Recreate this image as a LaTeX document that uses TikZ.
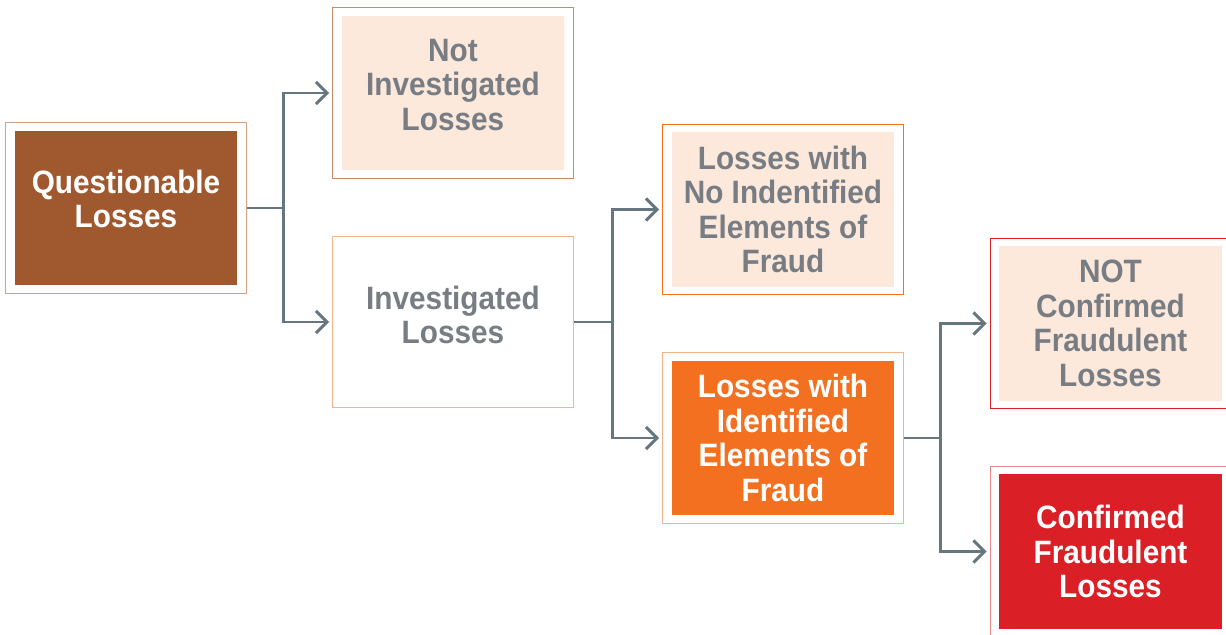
\documentclass[tikz,border=0pt]{standalone}
\usepackage{fontspec}
\setmainfont{Liberation Sans}[FakeStretch=0.92]
\usepackage{xcolor}
\usetikzlibrary{arrows.meta,positioning,fit}

\definecolor{qbrown}{HTML}{A0592F}
\definecolor{qtan}{HTML}{D4A088}
\definecolor{peach}{HTML}{FDE9DC}
\definecolor{nirim}{HTML}{C98A6B}
\definecolor{invrim}{HTML}{F7B38C}
\definecolor{forange}{HTML}{F37021}
\definecolor{orim}{HTML}{F8B18D}
\definecolor{fred}{HTML}{DA1F26}
\definecolor{crim}{HTML}{E9898C}
\definecolor{txtgray}{HTML}{777D83}
\definecolor{linkgray}{HTML}{66767E}

\begin{document}
\begin{tikzpicture}[
  x=0.025cm, y=-0.025cm,
  font=\fontsize{23}{24.5}\selectfont\bfseries,
  inbox/.style={minimum width=5.55cm, minimum height=3.85cm, inner sep=0pt},
  dark/.style={inbox, fill=#1},
  light/.style={inbox, fill=peach},
  wtext/.style={align=center, inner sep=0pt, text=white},
  gtext/.style={align=center, inner sep=0pt, text=txtgray},
  frame/.style={draw=#1, line width=0.9pt, inner xsep=0.225cm, inner ysep=0.2cm},
  link/.style={draw=linkgray, line width=2.1pt},
  arr/.style={link, -{Straight Barb[length=0.28cm, width=0.55cm, line width=2.1pt]}, shorten >=2pt}
]
\useasboundingbox (0,0) rectangle (1226,634);

% Boxes.
\node[dark=qbrown] (qB) at (126,208) {};
\node[wtext] (q) at ([yshift=0.22cm]qB.center) {Questionable\\Losses};
\node[frame=qtan, fit=(qB)] (qF) {};

\node[light] (niB) at (453,93) {};
\node[gtext] (ni) at ([yshift=0.2cm]niB.center) {Not\\Investigated\\Losses};
\node[frame=nirim, fit=(niB)] (niF) {};

\node[inbox] (invB) at (453,322) {};
\node[gtext] (inv) at ([yshift=0.18cm]invB.center) {Investigated\\Losses};
\node[frame=invrim, fit=(invB)] (invF) {};

\node[light] (nieB) at (783,209.5) {};
\node[gtext] (nie) at (nieB.center) {Losses with\\No Indentified\\Elements of\\Fraud};
\node[frame=forange, fit=(nieB)] (nieF) {};

\node[dark=forange] (ieB) at (783,438) {};
\node[wtext] (ie) at (ieB.center) {Losses with\\Identified\\Elements of\\Fraud};
\node[frame=orim, fit=(ieB)] (ieF) {};

\node[light] (ncB) at (1110.5,323.5) {};
\node[gtext] (nc) at (ncB.center) {NOT\\Confirmed\\Fraudulent\\Losses};
\node[frame=fred, fit=(ncB)] (ncF) {};

\node[dark=fred] (cfB) at (1110.5,551.5) {};
\node[wtext] (cf) at (cfB.center) {Confirmed\\Fraudulent\\Losses};
\node[frame=crim, fit=(cfB)] (cfF) {};

% Connectors.
\draw[link] (qF.east) -- ++(37,0) coordinate (j1);
\draw[arr] (j1) |- (niF.west);
\draw[arr] (j1) |- (invF.west);

\draw[link] (invF.east) -- ++(39,0) coordinate (j2);
\draw[arr] (j2) |- (nieF.west);
\draw[arr] (j2) |- (ieF.west);

\draw[link] (ieF.east) -- ++(37,0) coordinate (j3);
\draw[arr] (j3) |- (ncF.west);
\draw[arr] (j3) |- (cfF.west);
\end{tikzpicture}
\end{document}
